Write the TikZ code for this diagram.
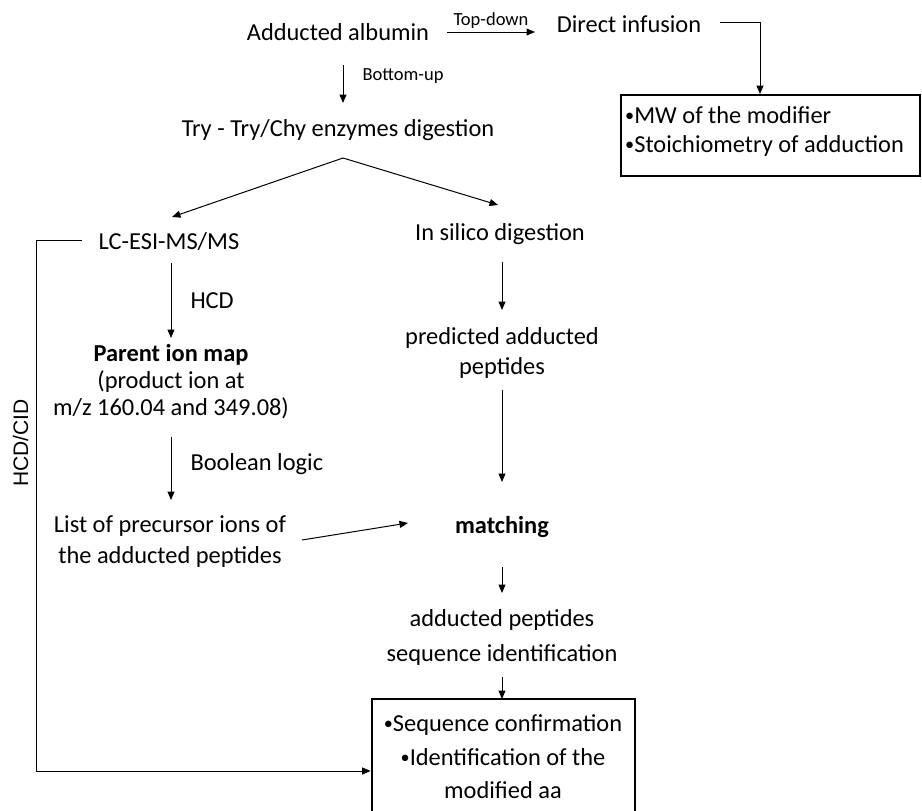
\documentclass[tikz,border=0pt]{standalone}
\usepackage{fontspec}
\setmainfont{Carlito}
\newfontfamily\labfont{Liberation Sans}
\usetikzlibrary{arrows.meta,calc}
\newcommand{\fsz}[1]{\fontsize{24.4}{#1}\selectfont}
\newcommand{\bul}{\raisebox{2pt}{\scalebox{0.75}{•}}}
\begin{document}
\begin{tikzpicture}[x=1pt,y=1pt,
  txt/.style={inner sep=0pt, align=center, font=\fsz{29}},
  lbl/.style={inner sep=0pt, font=\fontsize{18.5}{22}\selectfont},
  arr/.style={-{Triangle[length=8.5pt,width=7pt]}, line width=1pt},
  frame/.style={draw, line width=2.8pt, inner sep=0pt}
]
\useasboundingbox (0,0) rectangle (922,-811);
\fill[white] (0,0) rectangle (922,-811);

% nodes
\node[txt] (alb) at (338,-32) {Adducted albumin};
\node[txt] (di) at (629,-24) {Direct infusion};
\node[frame, minimum width=299pt, minimum height=81pt] (b1) at (770.5,-135.5) {};
\node[txt, anchor=west, align=left, font=\fsz{29}] (b1t) at (625,-131.5) {\bul MW of the modifier\\\bul Stoichiometry of adduction};
\node[txt] (try) at (338,-130) {Try - Try/Chy enzymes digestion};
\node[txt] (lc) at (169,-242) {LC-ESI-MS/MS};
\node[txt] (ins) at (500,-234) {In silico digestion};
\node[txt, font=\fsz{27}] (pim) at (171,-382) {{\bfseries Parent ion map}\\(product ion at\\m/z 160.04 and 349.08)};
\node[txt, font=\fsz{31}] (list) at (170,-542) {List of precursor ions of\\the adducted peptides};
\node[txt, font=\fsz{30}] (pred) at (502,-353) {predicted adducted\\peptides};
\node[txt, font=\bfseries\fsz{29}] (match) at (502,-527) {matching};
\node[txt, font=\fsz{35}] (asi) at (502,-637.5) {adducted peptides\\sequence identification};
\node[frame, minimum width=263pt, minimum height=116pt] (b2) at (503.5,-757) {};
\node[txt, font=\fsz{33.5}] (b2t) at (503,-757) {\bul Sequence confirmation\\\bul Identification of the\\modified aa};
\node[inner sep=0pt, rotate=90, font=\labfont\fontsize{21}{24}\selectfont] (hc) at (20.5,-443) {HCD/CID};

% connectors
\draw[arr] ($(alb)+(109,0)$) -- node[lbl, above=3pt] (td) {Top-down} ($(di)+(-94,-8)$);
\draw[arr] ($(di)+(91,2)$) -| ($(b1)+(-10.5,41.5)$);
\draw[arr] ($(alb)+(5,-33)$) -- node[lbl, pos=0.3, right=19pt] (bu) {Bottom-up} ($(try)+(5,27)$);
\draw[arr] ($(try)+(5,-28)$) -- ($(lc)+(3,25)$);
\draw[arr] ($(try)+(5,-28)$) -- ($(ins)+(-2,29)$);
\draw[arr] ($(lc)+(2,-21)$) -- node[txt, midway, right=19pt] (hcd) {HCD} ($(pim)+(0,44)$);
\draw[arr] ($(pim)+(0,-55)$) -- node[txt, pos=0.43, right=19pt] (bl) {Boolean logic} ($(list)+(1,42)$);
\draw[arr] ($(list)+(132,2)$) -- ($(match)+(-94,4)$);
\draw[arr] ($(ins)+(2,-28)$) -- ($(pred)+(0,43)$);
\draw[arr] ($(pred)+(0,-37)$) -- ($(match)+(0,45)$);
\draw[arr] ($(match)+(0,-40)$) -- ($(asi)+(0,44.5)$);
\draw[arr] ($(asi)+(0,-39.5)$) -- ($(b2)+(-1.5,58)$);
\draw[arr] ($(lc)+(-87,2)$) -- ++(-46,0) |- ($(b2.west)+(0,-14)$);
\end{tikzpicture}
\end{document}
